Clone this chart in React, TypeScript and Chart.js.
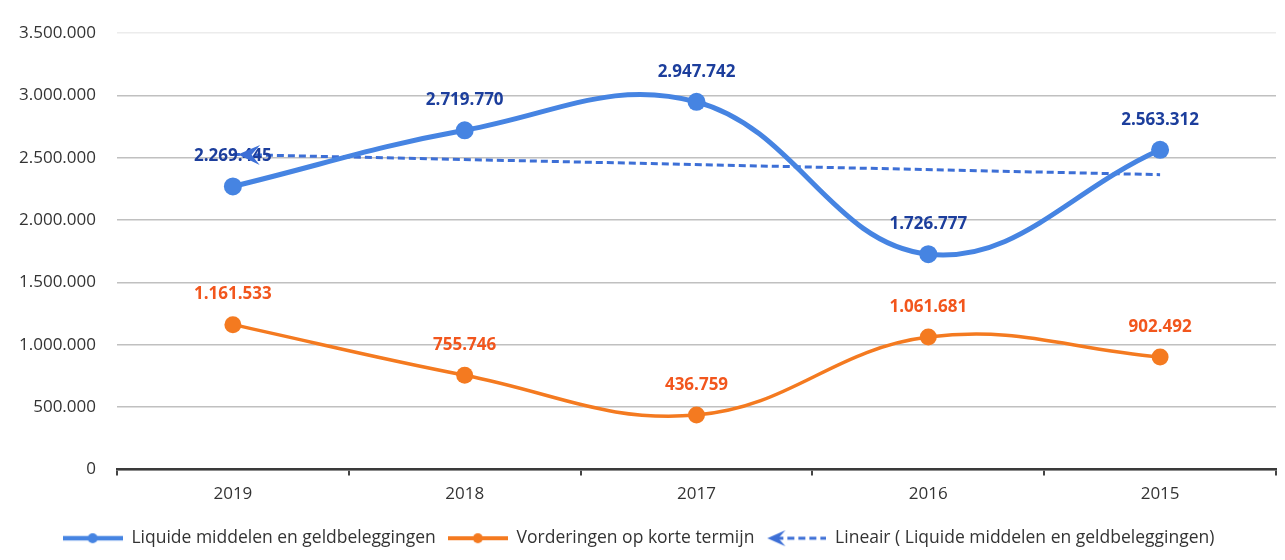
import React, { useEffect, useRef } from "react";
import { Chart, registerables } from "chart.js";

Chart.register(...registerables);

const categories = ["2019", "2018", "2017", "2016", "2015"];
const liquide = [2269445, 2719770, 2947742, 1726777, 2563312];
const vorderingen = [1161533, 755746, 436759, 1061681, 902492];
const trendLiquide = [2526000, null, null, null, 2364000];
const yMin = 0;
const yMax = 3500000;
const yStep = 500000;
const seriesNames = [
  "Liquide middelen en geldbeleggingen",
  "Vorderingen op korte termijn",
  "Lineair ( Liquide middelen en geldbeleggingen)",
];

const BLUE = "#4684e2";
const BLUE_LABEL = "#1c3e9c";
const TREND = "#3d6fd6";
const ORANGE = "#f47a20";
const ORANGE_LABEL = "#f2561d";
const TEXT = "#333333";
const FONT = "'Open Sans', 'Liberation Sans', sans-serif";

const fmt = (n: number) =>
  Math.round(n).toString().replace(/\B(?=(\d{3})+(?!\d))/g, ".");

function drawArrow(ctx: CanvasRenderingContext2D, tipX: number, tipY: number, angle: number, len: number, half: number, color: string) {
  ctx.save();
  ctx.translate(tipX, tipY);
  ctx.rotate(angle);
  ctx.beginPath();
  ctx.moveTo(0, 0);
  ctx.lineTo(-len, -half);
  ctx.lineTo(-len * 0.62, 0);
  ctx.lineTo(-len, half);
  ctx.closePath();
  ctx.fillStyle = color;
  ctx.fill();
  ctx.restore();
}

function makeSample(kind: "blue" | "orange" | "trend") {
  const c = document.createElement("canvas");
  c.width = 60;
  c.height = 18;
  const ctx = c.getContext("2d")!;
  if (kind === "trend") {
    ctx.strokeStyle = TREND;
    ctx.lineWidth = 3;
    ctx.setLineDash([7, 4]);
    ctx.beginPath();
    ctx.moveTo(10, 9);
    ctx.lineTo(60, 9);
    ctx.stroke();
    ctx.setLineDash([]);
    drawArrow(ctx, 1, 9, Math.PI, 18, 8, TREND);
  } else {
    const col = kind === "blue" ? BLUE : ORANGE;
    ctx.strokeStyle = col;
    ctx.lineWidth = kind === "blue" ? 4.5 : 4;
    ctx.beginPath();
    ctx.moveTo(0, 9);
    ctx.lineTo(60, 9);
    ctx.stroke();
    ctx.fillStyle = col;
    ctx.beginPath();
    ctx.arc(30, 9, 5, 0, Math.PI * 2);
    ctx.fill();
  }
  return c;
}

const labelsPlugin = {
  id: "valueLabelsAndArrow",
  beforeDraw(chart: any) {
    const ctx = chart.ctx;
    ctx.save();
    ctx.fillStyle = "#ffffff";
    ctx.fillRect(0, 0, chart.width, chart.height);
    ctx.restore();
  },
  afterDatasetsDraw(chart: any) {
    const ctx = chart.ctx;
    ctx.save();
    ctx.font = `bold 17px ${FONT}`;
    ctx.textAlign = "center";
    ctx.textBaseline = "middle";
    const specs = [
      { idx: 0, color: BLUE_LABEL, data: liquide },
      { idx: 1, color: ORANGE_LABEL, data: vorderingen },
    ];
    specs.forEach((s) => {
      const meta = chart.getDatasetMeta(s.idx);
      meta.data.forEach((pt: any, i: number) => {
        ctx.fillStyle = s.color;
        ctx.fillText(fmt(s.data[i]), pt.x, pt.y - 30);
      });
    });
    ctx.restore();
    const tm = chart.getDatasetMeta(2);
    const p0 = tm.data[0];
    const p1 = tm.data[tm.data.length - 1];
    const ang = Math.atan2(p0.y - p1.y, p0.x - p1.x);
    drawArrow(ctx, p0.x + 5, p0.y, ang, 22, 10, TREND);
  },
};

export default function App() {
  const ref = useRef<HTMLCanvasElement | null>(null);
  useEffect(() => {
    document.body.style.margin = "0";
    Chart.defaults.font.family = FONT;
    const samples = [makeSample("blue"), makeSample("orange"), makeSample("trend")];
    const chart = new Chart(ref.current!, {
      type: "line",
      data: {
        labels: categories,
        datasets: [
          {
            label: seriesNames[0],
            data: liquide,
            borderColor: BLUE,
            backgroundColor: BLUE,
            borderWidth: 5,
            pointRadius: 9,
            pointBackgroundColor: BLUE,
            pointBorderWidth: 0,
            tension: 0.4,
          },
          {
            label: seriesNames[1],
            data: vorderingen,
            borderColor: ORANGE,
            backgroundColor: ORANGE,
            borderWidth: 3.5,
            pointRadius: 8.5,
            pointBackgroundColor: ORANGE,
            pointBorderWidth: 0,
            tension: 0.4,
          },
          {
            label: seriesNames[2],
            data: trendLiquide,
            borderColor: TREND,
            backgroundColor: TREND,
            borderWidth: 3,
            borderDash: [7, 4],
            pointRadius: 0,
            spanGaps: true,
            tension: 0,
          },
        ],
      },
      options: {
        animation: false,
        responsive: false,
        layout: { padding: { left: 0, right: 8, top: 33, bottom: 3 } },
        plugins: {
          tooltip: { enabled: false },
          legend: {
            position: "bottom",
            labels: {
              usePointStyle: true,
              pointStyleWidth: 60,
              boxHeight: 17,
              padding: 12,
              color: TEXT,
              font: { size: 17.5, family: FONT },
              generateLabels: () =>
                seriesNames.map((name, i) => ({
                  text: name,
                  pointStyle: samples[i],
                  datasetIndex: i,
                  fillStyle: "transparent",
                  strokeStyle: "transparent",
                  lineWidth: 0,
                  hidden: false,
                  fontColor: TEXT,
                })),
            },
          },
        },
        scales: {
          x: {
            offset: true,
            afterFit: (s: any) => {
              s.height = 48;
            },
            grid: {
              display: true,
              offset: true,
              drawOnChartArea: false,
              drawTicks: true,
              tickLength: 6,
              color: "#444444",
              lineWidth: 2,
            },
            border: { display: true, color: "#3a3a3a", width: 2.5 },
            ticks: {
              color: TEXT,
              font: { size: 17, family: FONT },
              padding: 8,
            },
          },
          y: {
            min: yMin,
            max: yMax,
            afterFit: (s: any) => {
              s.width = 117;
            },
            grid: {
              drawTicks: false,
              color: (c: any) => (c.tick && c.tick.value === yMax ? "#ececec" : "#c0c0c0"),
              lineWidth: 1.5,
            },
            border: { display: false },
            ticks: {
              stepSize: yStep,
              padding: 21,
              color: TEXT,
              font: { size: 17, family: FONT },
              callback: (v: any) => fmt(Number(v)),
            },
          },
        },
      },
      plugins: [labelsPlugin],
    } as any);
    return () => chart.destroy();
  }, []);
  return (
    <div style={{ width: 1285, height: 560 }}>
      <canvas ref={ref} width={1285} height={560} />
    </div>
  );
}
